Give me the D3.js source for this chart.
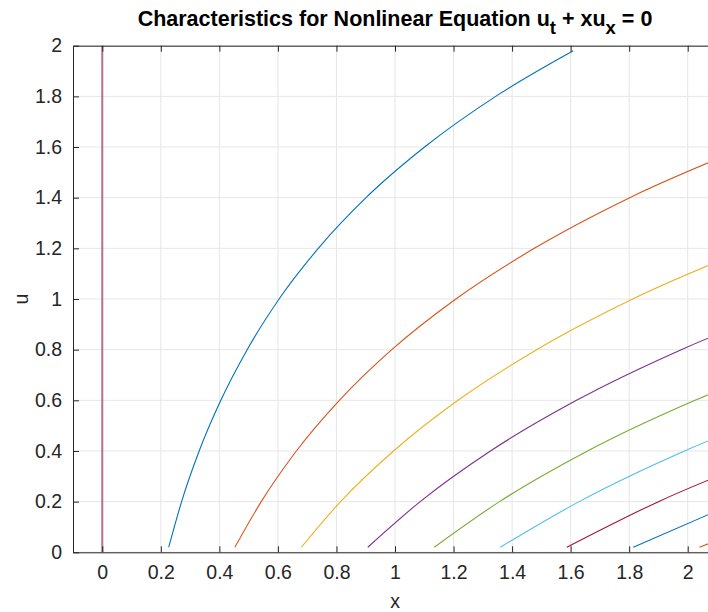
<!DOCTYPE html>
<html>
<head>
<meta charset="utf-8">
<script src="https://cdn.jsdelivr.net/npm/d3@7"></script>
<style>
  body { margin: 0; background: #fff; }
  svg { display: block; }
</style>
</head>
<body>
<script>
const uLevels = [0.02, 0.2, 0.4, 0.6, 0.8, 1.0, 1.2, 1.4, 1.6, 1.8, 1.98];

// x positions of each characteristic at those u levels
const curveX = [
    [0.227, 0.271, 0.331, 0.405, 0.495, 0.604, 0.738, 0.901, 1.101, 1.344, 1.609],
    [0.453, 0.543, 0.663, 0.810, 0.989, 1.208, 1.476, 1.802, 2.201],
    [0.680, 0.814, 0.995, 1.215, 1.484, 1.812, 2.213],
    [0.907, 1.086, 1.326, 1.620, 1.978, 2.416],
    [1.134, 1.357, 1.658, 2.025, 2.473],
    [1.360, 1.629, 1.989, 2.429],
    [1.587, 1.900, 2.321],
    [1.814, 2.172],
    [2.040, 2.443]
];
const curveColors = ['#0072BD', '#D95319', '#EDB120', '#7E2F8E', '#77AC30', '#4DBEEE', '#A2142F', '#0072BD', '#D95319'];

// the x = 0 characteristic
const axisLineU = [0, 2];
const axisLineX = [0, 0];

const xTicks = [0, 0.2, 0.4, 0.6, 0.8, 1, 1.2, 1.4, 1.6, 1.8, 2];
const yTicks = [0, 0.2, 0.4, 0.6, 0.8, 1, 1.2, 1.4, 1.6, 1.8, 2];

(function() {
    const width = 708,
          height = 612,
          plotLeft = 73,
          plotRight = 717,
          plotTop = 45.7,
          plotBottom = 552.3,
          axisColor = '#262626',
          font = '"Liberation Sans", Arial, sans-serif';

    let svg = d3.select('body')
                .append('svg')
                .attr('width', width)
                .attr('height', height);

    let x = d3.scaleLinear().domain([-0.1, 2.1]).range([plotLeft, plotRight]);
    let y = d3.scaleLinear().domain([0, 2]).range([plotBottom, plotTop]);

    svg.append('defs').append('clipPath')
       .attr('id', 'plotClip')
       .append('rect')
       .attr('x', plotLeft).attr('y', plotTop)
       .attr('width', plotRight - plotLeft).attr('height', plotBottom - plotTop);

    // grid
    let grid = svg.append('g');
    grid.selectAll('.vgrid')
        .data(xTicks)
        .enter()
        .append('line')
        .attr('x1', d => x(d)).attr('x2', d => x(d))
        .attr('y1', plotTop).attr('y2', plotBottom)
        .attr('stroke', '#e6e6e6');
    grid.selectAll('.hgrid')
        .data(yTicks)
        .enter()
        .append('line')
        .attr('x1', plotLeft).attr('x2', plotRight)
        .attr('y1', d => y(d)).attr('y2', d => y(d))
        .attr('stroke', '#e6e6e6');

    // curves
    let plot = svg.append('g').attr('clip-path', 'url(#plotClip)');

    plot.append('path')
        .datum(axisLineU.map((u, i) => [axisLineX[i], u]))
        .attr('fill', 'none')
        .attr('stroke', '#b8708f')
        .attr('stroke-width', 2)
        .attr('d', d3.line().x(d => x(d[0])).y(d => y(d[1])));

    let line = d3.line()
                 .x(d => x(d[0]))
                 .y(d => y(d[1]))
                 .curve(d3.curveMonotoneX);

    plot.selectAll('.curve')
        .data(curveX)
        .enter()
        .append('path')
        .attr('fill', 'none')
        .attr('stroke', (d, i) => curveColors[i])
        .attr('stroke-width', 1.1)
        .attr('d', d => line(d.map((v, i) => [v, uLevels[i]])));

    // axes
    let styleAxis = function(g) {
        g.select('.domain').attr('stroke', axisColor).attr('stroke-width', 1);
        g.selectAll('.tick line').attr('stroke', axisColor);
        g.selectAll('.tick text')
         .attr('fill', axisColor)
         .style('font-size', '19.5px')
         .style('font-family', font);
    };

    svg.append('g')
       .attr('transform', `translate(0,${plotBottom})`)
       .call(d3.axisBottom(x).tickValues(xTicks).tickFormat(d3.format('')).tickSizeInner(-6).tickSizeOuter(0).tickPadding(13))
       .call(styleAxis);

    svg.append('g')
       .attr('transform', `translate(0,${plotTop})`)
       .call(d3.axisTop(x).tickValues(xTicks).tickFormat('').tickSizeInner(-6).tickSizeOuter(0))
       .call(styleAxis);

    svg.append('g')
       .attr('transform', `translate(${plotLeft},0)`)
       .call(d3.axisLeft(y).tickValues(yTicks).tickFormat(d3.format('')).tickSizeInner(-6).tickSizeOuter(0).tickPadding(11))
       .call(styleAxis);

    // labels
    svg.append('text')
       .attr('x', (plotLeft + plotRight) / 2)
       .attr('y', 608)
       .attr('text-anchor', 'middle')
       .attr('fill', axisColor)
       .style('font-family', font)
       .style('font-size', '19.5px')
       .text('x');

    svg.append('text')
       .attr('transform', `translate(28,${(plotTop + plotBottom) / 2}) rotate(-90)`)
       .attr('text-anchor', 'middle')
       .attr('fill', axisColor)
       .style('font-family', font)
       .style('font-size', '19.5px')
       .text('u');

    let title = svg.append('text')
                   .attr('x', (plotLeft + plotRight) / 2)
                   .attr('y', 26)
                   .attr('text-anchor', 'middle')
                   .attr('fill', '#000')
                   .style('font-family', font)
                   .style('font-size', '21.5px')
                   .style('font-weight', 'bold');
    title.append('tspan').text('Characteristics for Nonlinear Equation u');
    title.append('tspan').attr('dy', 8).style('font-size', '18.5px').text('t');
    title.append('tspan').attr('dy', -8).text(' + xu');
    title.append('tspan').attr('dy', 8).style('font-size', '18.5px').text('x');
    title.append('tspan').attr('dy', -8).text(' = 0');
})();
</script>
</body>
</html>
